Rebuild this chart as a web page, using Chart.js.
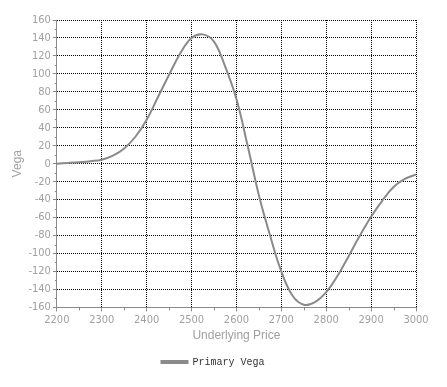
<!DOCTYPE html>
<html lang="en">
<head>
    <meta charset="UTF-8">
    <title>Primary Vega</title>
    <style>
        html, body { margin: 0; padding: 0; background: #fff; }
        .chart-container { width: 447px; height: 387px; position: relative; }
    </style>
</head>
<body>
    <div class="chart-container">
        <canvas id="myChart"></canvas>
    </div>

    <script src="https://cdn.jsdelivr.net/npm/chart.js"></script>
    <script>
        // values
        var prices = [2200, 2225, 2250, 2275, 2300, 2325, 2350, 2375, 2400, 2425, 2450, 2475, 2500,
                      2525, 2550, 2575, 2600, 2625, 2650, 2675, 2700, 2725, 2750, 2775, 2800,
                      2825, 2850, 2875, 2900, 2925, 2950, 2975, 3000];
        var vega = [0, 0.8, 1.7, 2.8, 4.5, 9, 17, 30, 49, 74, 99, 123, 140,
                    144, 136, 108, 72, 20, -35, -80, -120, -147, -157, -154, -143,
                    -125, -103, -80, -59, -41, -26, -17, -12];
        var seriesName = 'Primary Vega';

        var gray = '#8a8a8a';
        var labelGray = '#a0a0a0';

        var minorTicks = {
            id: 'minorTicks',
            afterDraw: function (chart) {
                var ctx = chart.ctx;
                var xs = chart.scales.x, ys = chart.scales.y;
                ctx.save();
                ctx.strokeStyle = gray;
                ctx.lineWidth = 1;
                ctx.beginPath();
                for (var v = -150; v < 160; v += 20) {
                    var py = Math.round(ys.getPixelForValue(v)) + 0.5;
                    ctx.moveTo(xs.left - 2, py);
                    ctx.lineTo(xs.left, py);
                }
                for (var p = 2250; p < 3000; p += 100) {
                    var px = Math.round(xs.getPixelForValue(p)) + 0.5;
                    ctx.moveTo(px, ys.bottom);
                    ctx.lineTo(px, ys.bottom + 3);
                }
                ctx.stroke();
                ctx.restore();
            }
        };

        var ctx = document.getElementById('myChart').getContext('2d');
        var myChart = new Chart(ctx, {
            type: 'line',
            data: {
                datasets: [{
                    label: seriesName,
                    data: prices.map(function (p, i) { return { x: p, y: vega[i] }; }),
                    borderColor: gray,
                    backgroundColor: gray,
                    borderWidth: 2,
                    pointRadius: 0,
                    tension: 0.4,
                    fill: false
                }]
            },
            options: {
                responsive: true,
                maintainAspectRatio: false,
                animation: false,
                layout: { padding: { top: 20, right: 31, left: 10, bottom: 10 } },
                plugins: {
                    legend: {
                        position: 'bottom',
                        labels: {
                            boxWidth: 26,
                            boxHeight: 2,
                            color: '#333',
                            padding: 14,
                            font: { family: 'Liberation Mono', size: 10 }
                        }
                    },
                    tooltip: { enabled: false }
                },
                scales: {
                    x: {
                        type: 'linear',
                        min: 2200,
                        max: 3000,
                        ticks: { stepSize: 100, color: labelGray, font: { family: 'DejaVu Sans Condensed', size: 11 }, padding: 2, maxRotation: 0,
                                 callback: function (v) { return String(v); } },
                        grid: { color: '#000', tickColor: gray, tickLength: 4, tickBorderDash: [] },
                        border: { color: gray, width: 1, dash: [1, 1] },
                        title: { display: true, text: 'Underlying Price', color: labelGray, font: { family: 'Liberation Sans', size: 12 }, padding: { top: 0, bottom: 0 } }
                    },
                    y: {
                        min: -160,
                        max: 160,
                        ticks: { stepSize: 20, color: labelGray, font: { family: 'DejaVu Sans Condensed', size: 11 }, padding: 2 },
                        grid: { color: '#000', tickColor: gray, tickLength: 4, tickBorderDash: [] },
                        border: { color: gray, width: 1, dash: [1, 1] },
                        title: { display: true, text: 'Vega', color: labelGray, font: { family: 'Liberation Sans', size: 12 }, padding: { top: 0, bottom: 2 } }
                    }
                }
            },
            plugins: [minorTicks]
        });
    </script>
</body>
</html>
